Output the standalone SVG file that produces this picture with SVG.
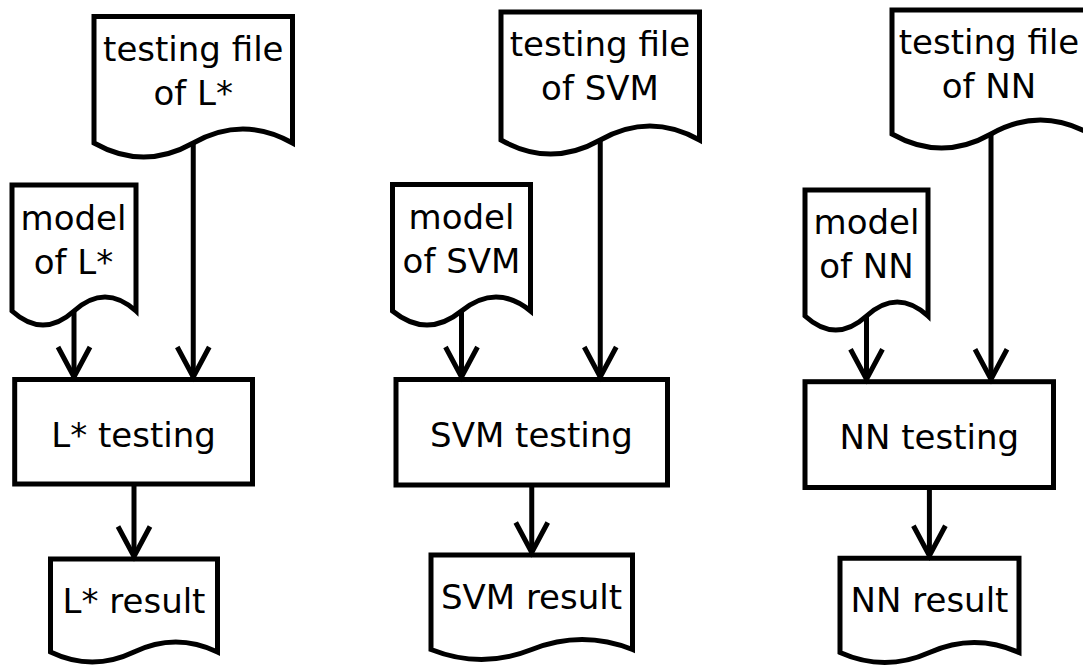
<svg xmlns="http://www.w3.org/2000/svg" width="1083" height="666" viewBox="0 0 1083 666">
  <style>
    .shape { fill: #ffffff; stroke: #000000; stroke-width: 5; stroke-linejoin: miter; }
    .label { font-family: "DejaVu Sans", Verdana, sans-serif; font-size: 34px; fill: #000000; text-anchor: middle; }
    .link { fill: none; stroke: #000000; stroke-width: 5; marker-end: url(#head); }
  </style>
  <defs>
    <!-- open V arrowhead -->
    <marker id="head" markerUnits="userSpaceOnUse" viewBox="-40 -22 48 44" markerWidth="48" markerHeight="44" refX="0" refY="0" orient="auto" overflow="visible">
      <path d="M-30,-16 L0,0 L-30,16" fill="none" stroke="#000000" stroke-width="5" stroke-linejoin="miter"/>
    </marker>
  </defs>
  <rect x="0" y="0" width="1083" height="666" fill="#ffffff"/>

  <!-- L* column -->
  <g id="file-lstar">
    <path class="shape" d="M94,16.5 H292.5 V143 Q242.9,115 193.25,143 Q143.6,171 94,143 Z"/>
    <text class="label" x="193.3" y="61">testing file</text>
    <text class="label" x="193.3" y="105">of L*</text>
  </g>
  <g id="model-lstar">
    <path class="shape" d="M12,185 H136 V311 Q105,283 74,311 Q43,339 12,311 Z"/>
    <text class="label" x="73.5" y="229.5">model</text>
    <text class="label" x="73.5" y="273.5">of L*</text>
  </g>
  <g id="test-lstar">
    <rect class="shape" x="14.7" y="379.5" width="237.8" height="104.5"/>
    <text class="label" x="133.6" y="447">L* testing</text>
  </g>
  <g id="result-lstar">
    <path class="shape" d="M50.5,559 H217.5 V652 Q175.75,632 134,652 Q92.25,672 50.5,652 Z"/>
    <text class="label" x="134" y="613">L* result</text>
  </g>

  <!-- SVM column -->
  <g id="file-svm">
    <path class="shape" d="M501,12 H699.5 V140 Q649.9,112 600.25,140 Q550.6,168 501,140 Z"/>
    <text class="label" x="600" y="55.5">testing file</text>
    <text class="label" x="600" y="100">of SVM</text>
  </g>
  <g id="model-svm">
    <path class="shape" d="M392.5,184.5 H530.5 V311 Q496,283 461.5,311 Q427,339 392.5,311 Z"/>
    <text class="label" x="461.5" y="228.5">model</text>
    <text class="label" x="461.5" y="273">of SVM</text>
  </g>
  <g id="test-svm">
    <rect class="shape" x="396" y="379.5" width="271.5" height="105.5"/>
    <text class="label" x="531.5" y="446.5">SVM testing</text>
  </g>
  <g id="result-svm">
    <path class="shape" d="M431,555 H632.5 V649.5 Q582.1,629.5 531.75,649.5 Q481.4,669.5 431,649.5 Z"/>
    <text class="label" x="531.5" y="608.5">SVM result</text>
  </g>

  <!-- NN column -->
  <g id="file-nn">
    <path class="shape" d="M892,10 H1090 V134 Q1040.5,106 991,134 Q941.5,162 892,134 Z"/>
    <text class="label" x="989" y="53.5">testing file</text>
    <text class="label" x="989" y="98">of NN</text>
  </g>
  <g id="model-nn">
    <path class="shape" d="M805,190 H928 V316 Q897.25,288 866.5,316 Q835.75,344 805,316 Z"/>
    <text class="label" x="866.5" y="233.5">model</text>
    <text class="label" x="866.5" y="278">of NN</text>
  </g>
  <g id="test-nn">
    <rect class="shape" x="805" y="381.7" width="248.5" height="105.8"/>
    <text class="label" x="929.3" y="448.5">NN testing</text>
  </g>
  <g id="result-nn">
    <path class="shape" d="M840,558.3 H1019 V652.5 Q974.25,632.5 929.5,652.5 Q884.75,672.5 840,652.5 Z"/>
    <text class="label" x="929.5" y="612">NN result</text>
  </g>

  <!-- connectors -->
  <g id="connectors">
    <path class="link" d="M74,311 V377"/>
    <path class="link" d="M193.25,143 V377"/>
    <path class="link" d="M134,484 V556.5"/>

    <path class="link" d="M461.5,311 V377"/>
    <path class="link" d="M600.25,140 V377"/>
    <path class="link" d="M531.75,485 V552.5"/>

    <path class="link" d="M866.5,316 V379.2"/>
    <path class="link" d="M991,134 V379.2"/>
    <path class="link" d="M929.4,487.5 V555.8"/>
  </g>
</svg>
